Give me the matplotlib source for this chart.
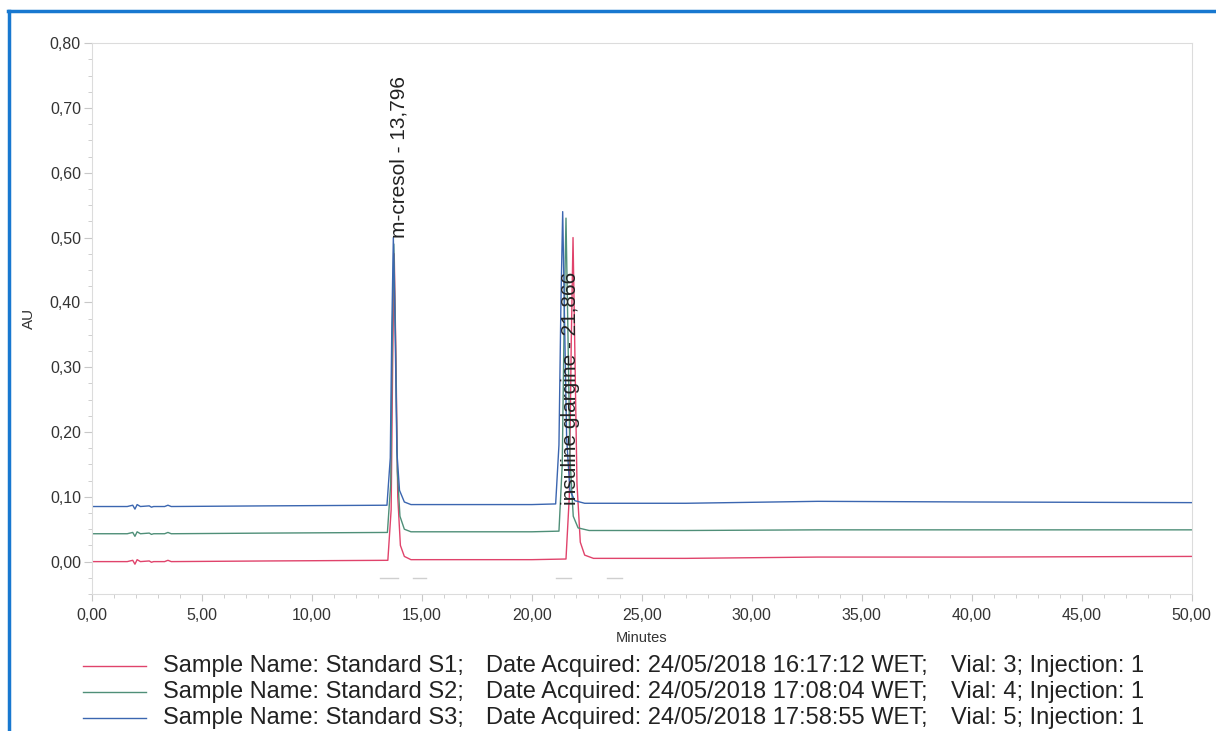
import numpy as np
import matplotlib.pyplot as plt
from matplotlib.lines import Line2D
from matplotlib.ticker import MultipleLocator, FuncFormatter

plt.rcParams['font.family'] = ['Liberation Sans', 'DejaVu Sans']

# Traces (Minutes, AU) for the three standards
t_s1 = [0, 1.6, 1.85, 1.95, 2.05, 2.2, 2.6, 2.7, 2.8, 3.3, 3.45, 3.6, 8, 13.45, 13.6, 13.67, 13.74,
        13.82, 13.9, 14.02, 14.2, 14.5, 20, 21.55, 21.7, 21.79, 21.87, 21.95, 22.05, 22.2, 22.4,
        22.8, 27, 33, 40, 50]
au_s1 = [0.000, 0.000, 0.002, -0.004, 0.003, 0.000, 0.001, -0.001, 0.000, 0.000, 0.002, 0.000,
         0.001, 0.002, 0.08, 0.31, 0.475, 0.31, 0.10, 0.025, 0.008, 0.003, 0.003, 0.004, 0.10, 0.34,
         0.50, 0.33, 0.12, 0.03, 0.01, 0.005, 0.005, 0.007, 0.007, 0.008]

t_s2 = [0, 1.6, 1.85, 1.95, 2.05, 2.2, 2.6, 2.7, 2.8, 3.3, 3.45, 3.6, 8, 13.43, 13.58, 13.65, 13.72,
        13.8, 13.88, 14.0, 14.2, 14.5, 20, 21.23, 21.38, 21.47, 21.55, 21.63, 21.73, 21.88, 22.1,
        22.6, 27, 33, 40, 50]
au_s2 = [0.043, 0.043, 0.045, 0.039, 0.046, 0.043, 0.044, 0.042, 0.043, 0.043, 0.045, 0.043,
         0.044, 0.045, 0.12, 0.34, 0.49, 0.34, 0.14, 0.07, 0.05, 0.046, 0.046, 0.047, 0.15, 0.38,
         0.53, 0.37, 0.16, 0.07, 0.052, 0.048, 0.048, 0.049, 0.049, 0.049]

t_s3 = [0, 1.6, 1.85, 1.95, 2.05, 2.2, 2.6, 2.7, 2.8, 3.3, 3.45, 3.6, 8, 13.41, 13.56, 13.63, 13.70,
        13.78, 13.86, 13.98, 14.2, 14.5, 20, 21.08, 21.23, 21.32, 21.40, 21.48, 21.58, 21.73, 21.95,
        22.4, 27, 33, 40, 50]
au_s3 = [0.085, 0.085, 0.087, 0.081, 0.088, 0.085, 0.086, 0.084, 0.085, 0.085, 0.087, 0.085,
         0.086, 0.087, 0.16, 0.36, 0.50, 0.36, 0.17, 0.11, 0.092, 0.088, 0.088, 0.089, 0.18, 0.40,
         0.54, 0.38, 0.19, 0.11, 0.094, 0.090, 0.090, 0.093, 0.092, 0.091]

peak_names = ['m-cresol - 13,796', 'insuline glargine - 21,866']
peak_times = [13.796, 21.866]

# integration marks below the baseline
mark_starts = [13.1, 14.6, 21.1, 23.4]
mark_ends = [13.9, 15.2, 21.8, 24.1]
mark_level = -0.025

sample_names = ['Standard S1', 'Standard S2', 'Standard S3']
acquired = ['24/05/2018 16:17:12', '24/05/2018 17:08:04', '24/05/2018 17:58:55']
vials = [3, 4, 5]
colors = ['#e0436b', '#4f8f78', '#3b66b0']

fig = plt.figure(figsize=(12.16, 7.31), dpi=100)
ax = fig.add_axes([0.0757, 0.1874, 0.9043, 0.7536])

for t, au, c in zip([t_s1, t_s2, t_s3], [au_s1, au_s2, au_s3], colors):
    ax.plot(t, au, color=c, lw=1.0)

for a, b in zip(mark_starts, mark_ends):
    ax.plot([a, b], [mark_level, mark_level], color='#cfcfcf', lw=1.0)

ax.text(peak_times[0] + 0.15, 0.50, peak_names[0], rotation=90, ha='center', va='bottom',
        fontsize=15, color='#222222')
ax.text(peak_times[1] - 0.1, 0.088, peak_names[1], rotation=90, ha='center', va='bottom',
        fontsize=15, color='#222222')

ax.set_xlim(0, 50)
ax.set_ylim(-0.05, 0.80)
ax.xaxis.set_major_locator(MultipleLocator(5))
ax.xaxis.set_minor_locator(MultipleLocator(1))
ax.yaxis.set_major_locator(MultipleLocator(0.1))
ax.yaxis.set_minor_locator(MultipleLocator(0.025))
comma = FuncFormatter(lambda v, p: f'{v:.2f}'.replace('.', ','))
ax.xaxis.set_major_formatter(comma)
ax.yaxis.set_major_formatter(comma)
for s in ax.spines.values():
    s.set_color('#dcdcdc')
    s.set_linewidth(0.8)
ax.tick_params(which='both', color='#c8c8c8', labelcolor='#333333', labelsize=11.5)
ax.tick_params(axis='x', which='major', length=5, pad=5)
ax.tick_params(axis='y', which='major', length=6, pad=2)
ax.tick_params(which='minor', length=3)
ax.set_xlabel('Minutes', fontsize=10.5, color='#333333', labelpad=6)
ax.set_ylabel('AU', fontsize=11, color='#333333', labelpad=10)

# legend block under the plot
rows_y = [666, 692, 718]
for y, name, acq, vial, c in zip(rows_y, sample_names, acquired, vials, colors):
    yf = 1 - y / 731
    fig.add_artist(Line2D([83 / 1216, 146 / 1216], [yf, yf], color=c, lw=1.0))
    fig.text(163 / 1216, yf, f'Sample Name: {name};', fontsize=17, va='center', color='#222222')
    fig.text(486 / 1216, yf, f'Date Acquired: {acq} WET;', fontsize=17, va='center',
             color='#222222')
    fig.text(951 / 1216, yf, f'Vial: {vial}; Injection: 1', fontsize=17, va='center',
             color='#222222')

# blue frame along top and left
fig.add_artist(Line2D([8 / 1216, 1], [1 - 10.5 / 731, 1 - 10.5 / 731], color='#1878d0', lw=2.5))
fig.add_artist(Line2D([8.5 / 1216, 8.5 / 1216], [0, 1 - 10.5 / 731], color='#1878d0', lw=2.5))

fig.savefig('out.png', dpi=100)
